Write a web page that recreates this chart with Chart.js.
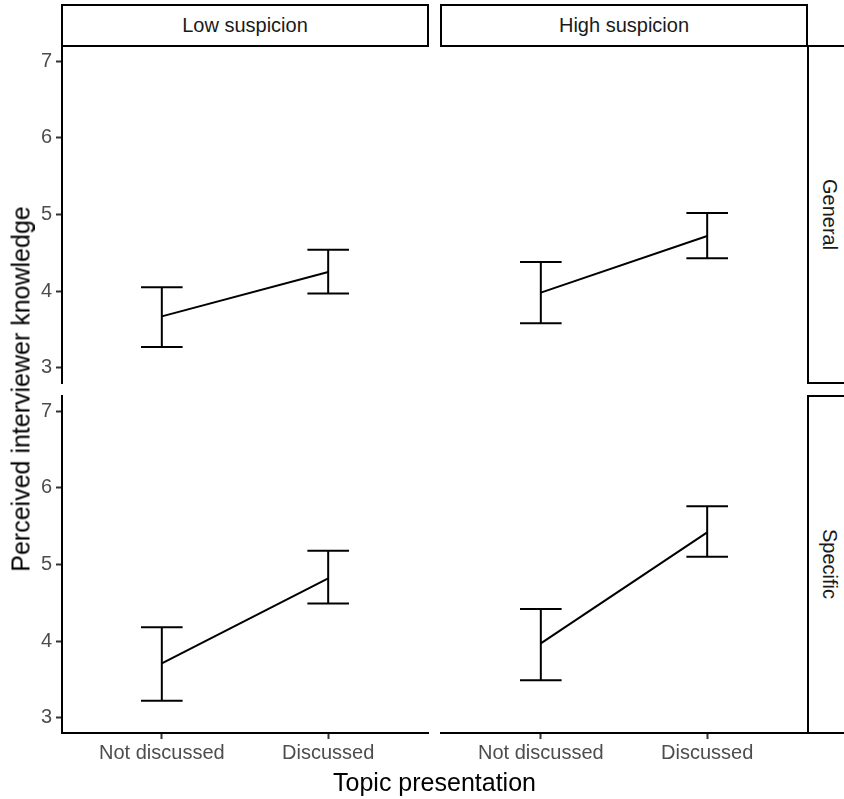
<!DOCTYPE html>
<html>
<head>
<meta charset="utf-8">
<script src="https://cdn.jsdelivr.net/npm/chart.js@4.4.1/dist/chart.umd.min.js"></script>
<style>
  body { margin: 0; background: #fff; font-family: 'Liberation Sans', Arial, sans-serif; }
  #wrap { position: relative; width: 844px; height: 799px; overflow: hidden; }
  canvas { position: absolute; left: 0; top: 0; }
  .strip {
    position: absolute; box-sizing: border-box; border: 2px solid #000; background: #fff;
    display: flex; align-items: center; justify-content: center;
    font-size: 20px; color: #1a1a1a;
  }
  .strip.side { writing-mode: vertical-rl; }
  .title { position: absolute; font-size: 25px; color: #000; text-align: center; white-space: nowrap; }
</style>
</head>
<body>
<div id="wrap">
  <canvas id="gl" width="844" height="799"></canvas>
  <canvas id="gh" width="844" height="799"></canvas>
  <canvas id="sl" width="844" height="799"></canvas>
  <canvas id="sh" width="844" height="799"></canvas>

  <div class="strip" style="left:61px; top:4px; width:368px; height:43px;">Low suspicion</div>
  <div class="strip" style="left:440px; top:4px; width:368px; height:43px;">High suspicion</div>
  <div class="strip side" style="left:807px; top:45px; width:44px; height:339px;">General</div>
  <div class="strip side" style="left:807px; top:395px; width:44px; height:339px;">Specific</div>

  <div class="title" style="left:62px; top:770px; width:745px; line-height:25px;">Topic presentation</div>
  <div class="title" style="left:-323px; top:375px; width:687px; line-height:28px; transform:rotate(-90deg);">Perceived interviewer knowledge</div>
</div>

<script>
// x categories and y ticks
const topics = ['Not discussed', 'Discussed'];
const yTicks = [3, 4, 5, 6, 7];

// General questions, low suspicion
const generalLowMean = [3.67, 4.25];
const generalLowLower = [3.27, 3.97];
const generalLowUpper = [4.05, 4.54];

// General questions, high suspicion
const generalHighMean = [3.98, 4.72];
const generalHighLower = [3.58, 4.43];
const generalHighUpper = [4.38, 5.02];

// Specific questions, low suspicion
const specificLowMean = [3.71, 4.82];
const specificLowLower = [3.22, 4.49];
const specificLowUpper = [4.18, 5.18];

// Specific questions, high suspicion
const specificHighMean = [3.97, 5.42];
const specificHighLower = [3.49, 5.10];
const specificHighUpper = [4.42, 5.76];

const Y_AXIS_W = 50;
const X_AXIS_H = 36;
const W = 844, H = 799;
const tickFont = { family: "'Liberation Sans', Arial, sans-serif", size: 20 };

// error bars with caps, placed through the chart's own scales
const errorBars = {
  id: 'errorBars',
  afterDatasetsDraw(chart, args, opts) {
    const { ctx, scales: { x, y } } = chart;
    const half = x.getPixelForValue(1 + opts.capWidth / 2) - x.getPixelForValue(1);
    ctx.save();
    ctx.strokeStyle = '#000';
    ctx.lineWidth = 2;
    ctx.lineCap = 'butt';
    opts.lower.forEach((lo, i) => {
      const px = x.getPixelForValue(i + 1);
      const yLo = y.getPixelForValue(lo);
      const yHi = y.getPixelForValue(opts.upper[i]);
      ctx.beginPath();
      ctx.moveTo(px, yLo); ctx.lineTo(px, yHi);
      ctx.moveTo(px - half, yLo); ctx.lineTo(px + half, yLo);
      ctx.moveTo(px - half, yHi); ctx.lineTo(px + half, yHi);
      ctx.stroke();
    });
    ctx.restore();
  }
};

function makePanel(id, box, showX, showY, mean, lower, upper) {
  new Chart(document.getElementById(id), {
    type: 'line',
    data: {
      datasets: [{
        data: mean.map((v, i) => ({ x: i + 1, y: v })),
        borderColor: '#000',
        borderWidth: 2,
        pointRadius: 0,
        tension: 0
      }]
    },
    options: {
      responsive: false,
      animation: false,
      events: [],
      layout: {
        padding: {
          left: box.left - (showY ? Y_AXIS_W : 0),
          top: box.top,
          right: W - box.right,
          bottom: H - box.bottom - (showX ? X_AXIS_H : 0)
        }
      },
      plugins: {
        legend: { display: false },
        tooltip: { enabled: false },
        errorBars: { lower, upper, capWidth: 0.25 }
      },
      scales: {
        x: {
          type: 'linear',
          min: 0.4,
          max: 2.6,
          display: showX,
          afterBuildTicks: s => { s.ticks = topics.map((t, i) => ({ value: i + 1 })); },
          afterFit: s => { if (showX) s.height = X_AXIS_H; },
          ticks: {
            callback: v => topics[v - 1],
            color: '#4d4d4d',
            font: tickFont,
            padding: 2,
            maxRotation: 0,
            autoSkip: false
          },
          grid: { drawOnChartArea: false, tickLength: 6, tickColor: '#333', tickWidth: 2 },
          border: { display: true, color: '#000', width: 2 }
        },
        y: {
          type: 'linear',
          min: 2.8,
          max: 7.2,
          display: showY,
          afterBuildTicks: s => { s.ticks = yTicks.map(v => ({ value: v })); },
          afterFit: s => { if (showY) s.width = Y_AXIS_W; },
          ticks: {
            color: '#4d4d4d',
            font: tickFont,
            padding: 4
          },
          grid: { drawOnChartArea: false, tickLength: 6, tickColor: '#333', tickWidth: 2 },
          border: { display: true, color: '#000', width: 2 }
        }
      }
    },
    plugins: [errorBars]
  });
}

const topRow = { top: 46, bottom: 383 };
const bottomRow = { top: 396, bottom: 733 };
const leftCol = { left: 62, right: 428 };
const rightCol = { left: 441, right: 807 };

makePanel('gl', { ...leftCol, ...topRow }, false, true, generalLowMean, generalLowLower, generalLowUpper);
makePanel('gh', { ...rightCol, ...topRow }, false, false, generalHighMean, generalHighLower, generalHighUpper);
makePanel('sl', { ...leftCol, ...bottomRow }, true, true, specificLowMean, specificLowLower, specificLowUpper);
makePanel('sh', { ...rightCol, ...bottomRow }, true, false, specificHighMean, specificHighLower, specificHighUpper);
</script>
</body>
</html>
